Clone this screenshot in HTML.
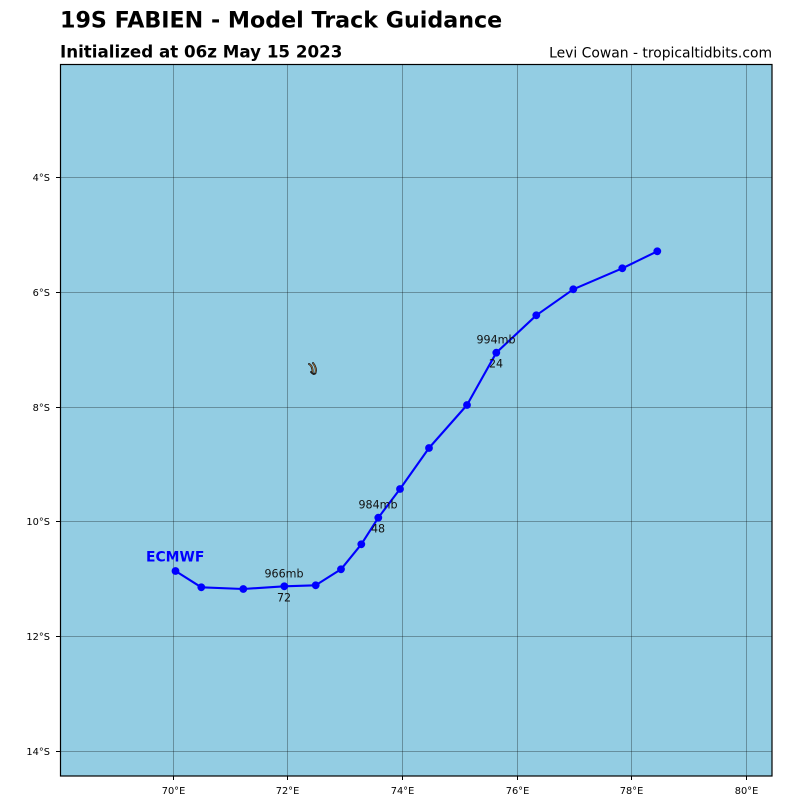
<!DOCTYPE html>
<html>
<head>
<meta charset="utf-8">
<style>
html,body{margin:0;padding:0;background:#fff;}
svg{display:block;}
text{font-family:"DejaVu Sans","Liberation Sans",sans-serif;}
</style>
</head>
<body>
<svg width="800" height="800" viewBox="0 0 800 800" xmlns="http://www.w3.org/2000/svg">
  <rect x="0" y="0" width="800" height="800" fill="#ffffff"/>
  <!-- titles -->
  <text x="60" y="27.5" font-size="22.2" font-weight="bold" fill="#000">19S FABIEN - Model Track Guidance</text>
  <text x="60" y="57.5" font-size="16.7" font-weight="bold" fill="#000">Initialized at 06z May 15 2023</text>
  <text x="772" y="57.5" font-size="13.9" fill="#000" text-anchor="end">Levi Cowan - tropicaltidbits.com</text>

  <!-- plot area -->
  <rect x="60" y="64" width="712" height="712" fill="#93cde3"/>
  <!-- grid -->
  <g stroke="#000" stroke-opacity="0.3" stroke-width="1">
    <line x1="173.5" y1="64" x2="173.5" y2="776"/>
    <line x1="287.5" y1="64" x2="287.5" y2="776"/>
    <line x1="402.5" y1="64" x2="402.5" y2="776"/>
    <line x1="517.5" y1="64" x2="517.5" y2="776"/>
    <line x1="631.5" y1="64" x2="631.5" y2="776"/>
    <line x1="746.5" y1="64" x2="746.5" y2="776"/>
    <line x1="60" y1="177.5" x2="772" y2="177.5"/>
    <line x1="60" y1="292.5" x2="772" y2="292.5"/>
    <line x1="60" y1="407.5" x2="772" y2="407.5"/>
    <line x1="60" y1="521.5" x2="772" y2="521.5"/>
    <line x1="60" y1="636.5" x2="772" y2="636.5"/>
    <line x1="60" y1="751.5" x2="772" y2="751.5"/>
  </g>

  <!-- hurricane symbol -->
  <g fill="none" stroke-linecap="round">
    <path d="M309 364 Q313 366 312.5 373 M313 363 Q317 368 315.5 373 Q314 375.5 311 372" stroke="#222" stroke-width="2"/>
    <path d="M309.5 364.5 Q313 366 312.5 372 M313.3 363.5 Q316.5 368 315.3 372.5" stroke="#a8793f" stroke-width="0.7"/>
  </g>

  <!-- track -->
  <polyline fill="none" stroke="#0000ff" stroke-width="2.1" stroke-linejoin="round"
    points="175.5,571 201.3,587.3 243.3,589 284.3,586.3 315.7,585.3 341,569.3 361.3,544.3 378.3,517.7 400,489 429,448 467,405 496.3,352.7 536.3,315.3 573.3,289.3 622.3,268.3 657.3,251.3"/>
  <g fill="#0000ff">
    <circle cx="175.5" cy="571" r="3.9"/>
    <circle cx="201.3" cy="587.3" r="3.9"/>
    <circle cx="243.3" cy="589" r="3.9"/>
    <circle cx="284.3" cy="586.3" r="3.9"/>
    <circle cx="315.7" cy="585.3" r="3.9"/>
    <circle cx="341" cy="569.3" r="3.9"/>
    <circle cx="361.3" cy="544.3" r="3.9"/>
    <circle cx="378.3" cy="517.7" r="3.9"/>
    <circle cx="400" cy="489" r="3.9"/>
    <circle cx="429" cy="448" r="3.9"/>
    <circle cx="467" cy="405" r="3.9"/>
    <circle cx="496.3" cy="352.7" r="3.9"/>
    <circle cx="536.3" cy="315.3" r="3.9"/>
    <circle cx="573.3" cy="289.3" r="3.9"/>
    <circle cx="622.3" cy="268.3" r="3.9"/>
    <circle cx="657.3" cy="251.3" r="3.9"/>
  </g>

  <!-- annotations -->
  <g font-size="11.1" fill="#111" text-anchor="middle">
    <text x="496" y="343.5">994mb</text>
    <text x="496" y="367.5">24</text>
    <text x="378" y="508.7">984mb</text>
    <text x="378" y="532.7">48</text>
    <text x="284" y="577.5">966mb</text>
    <text x="284" y="601.5">72</text>
  </g>
  <text x="146" y="561.5" font-size="13.9" font-weight="bold" fill="#0000ff">ECMWF</text>

  <!-- frame -->
  <rect x="60.5" y="64.5" width="711.5" height="711.5" fill="none" stroke="#000" stroke-width="1.2"/>

  <!-- ticks -->
  <g stroke="#000" stroke-width="1">
    <line x1="173.5" y1="776" x2="173.5" y2="780"/>
    <line x1="287.5" y1="776" x2="287.5" y2="780"/>
    <line x1="402.5" y1="776" x2="402.5" y2="780"/>
    <line x1="517.5" y1="776" x2="517.5" y2="780"/>
    <line x1="631.5" y1="776" x2="631.5" y2="780"/>
    <line x1="746.5" y1="776" x2="746.5" y2="780"/>
    <line x1="56" y1="177.5" x2="60" y2="177.5"/>
    <line x1="56" y1="292.5" x2="60" y2="292.5"/>
    <line x1="56" y1="407.5" x2="60" y2="407.5"/>
    <line x1="56" y1="521.5" x2="60" y2="521.5"/>
    <line x1="56" y1="636.5" x2="60" y2="636.5"/>
    <line x1="56" y1="751.5" x2="60" y2="751.5"/>
  </g>
  <g font-size="9.8" fill="#000" text-anchor="middle">
    <text x="173.5" y="794">70°E</text>
    <text x="287.5" y="794">72°E</text>
    <text x="402.5" y="794">74°E</text>
    <text x="517.5" y="794">76°E</text>
    <text x="631.5" y="794">78°E</text>
    <text x="746.5" y="794">80°E</text>
  </g>
  <g font-size="9.8" fill="#000" text-anchor="end">
    <text x="50" y="181">4°S</text>
    <text x="50" y="296">6°S</text>
    <text x="50" y="411">8°S</text>
    <text x="50" y="525">10°S</text>
    <text x="50" y="640">12°S</text>
    <text x="50" y="755">14°S</text>
  </g>
</svg>
</body>
</html>
